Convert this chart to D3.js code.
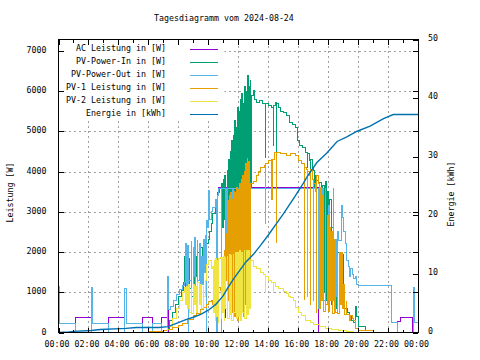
<!DOCTYPE html>
<html>
<head>
<meta charset="utf-8">
<script src="https://cdn.jsdelivr.net/npm/d3@7"></script>
<style>
  body { margin: 0; background: #fff; }
  text { font-family: "DejaVu Sans Mono", "Liberation Mono", monospace; font-size: 8.3px; fill: #000; }
</style>
</head>
<body>
<svg id="chart" width="480" height="360"></svg>
<script>

var chartTitle = "Tagesdiagramm vom 2024-08-24";

// x axis: hours of the day
var hourTicks = [0, 2, 4, 6, 8, 10, 12, 14, 16, 18, 20, 22, 24];
var hourMinorTicks = [1, 3, 5, 7, 9, 11, 13, 15, 17, 19, 21, 23];
var hourLabels = ["00:00", "02:00", "04:00", "06:00", "08:00", "10:00", "12:00",
  "14:00", "16:00", "18:00", "20:00", "22:00", "00:00"];
var gridHours = [2, 4, 6, 8, 10, 12, 14, 16, 18, 20, 22];

// left axis (W) and right axis (kWh)
var powerTicks = [0, 1000, 2000, 3000, 4000, 5000, 6000, 7000];
var gridPower = [1000, 2000, 3000, 4000, 5000, 6000, 7000];
var energyTicks = [0, 10, 20, 30, 40, 50];

var seriesNames = ["AC Leistung in [W]", "PV-Power-In in [W]", "PV-Power-Out in [W]",
  "PV-1 Leistung in [W]", "PV-2 Leistung in [W]", "Energie in [kWh]"];

// [hour, W]
var acData = [
  [0,0],[1.13,380],[2.2,0],[3.35,380],[4.42,0],[5.6,380],[6.3,0],[6.9,380],
  [7.25,850],[7.32,0],[10.6,3400],[10.7,3615],[11.13,380],[11.17,3615],
  [17.35,0],[22.66,270],[22.8,380],[23.65,0],[24,0]
];

var pvInData = [
  [0,0],[7.1,0],[7.25,100],[7.4,300],[7.6,500],[7.8,700],[8.0,900],[8.2,1050],[8.35,1250],
  [8.4,1900],[8.45,900],[8.55,1700],[8.6,1000],[8.7,1850],[8.75,1100],[8.85,1600],
  [8.9,900],[9.0,1800],[9.05,1100],[9.15,1900],[9.2,1400],[9.3,2000],[9.4,1600],
  [9.5,2100],[9.6,1900],[9.7,2150],[9.85,2200],[10.0,2300],[10.1,2500],[10.2,2700],
  [10.3,2950],[10.45,3200],[10.6,3480],[10.75,3570],
  [10.9,3700],[10.95,2600],[11.0,3800],[11.05,2800],[11.1,3900],[11.15,2500],
  [11.25,4020],[11.3,3000],[11.35,4300],[11.4,2600],[11.45,4500],[11.5,3200],
  [11.55,4770],[11.6,2800],[11.65,4900],[11.7,3000],[11.75,5260],[11.8,2500],
  [11.85,5100],[11.9,3100],[11.95,5600],[12.0,2700],[12.05,5500],[12.1,3000],
  [12.15,5800],[12.2,2400],[12.25,5930],[12.3,2900],[12.35,5700],[12.4,3300],
  [12.45,6100],[12.5,2600],[12.55,6000],[12.6,3000],[12.62,6390],[12.68,3500],
  [12.72,6100],[12.78,3400],[12.8,6260],[12.85,3600],[12.88,5900],[13.0,6010],
  [13.1,5800],[13.25,5720],[13.4,5760],[13.6,5700],[13.8,4350],[13.83,5680],
  [14.0,5650],[14.2,5600],[14.33,4640],[14.36,5650],[14.5,5720],[14.55,3300],
  [14.58,5700],[14.7,5600],[14.85,5500],[15.0,5470],[15.2,5390],[15.4,5220],
  [15.6,5180],[15.8,5100],[15.95,4770],[16.1,4640],[16.3,4600],[16.5,4480],
  [16.6,4100],[16.65,4450],[16.75,4270],[16.8,3950],[16.85,4300],[16.95,4100],
  [17.05,4020],[17.1,3600],[17.15,3900],[17.25,3770],[17.35,3700],[17.4,3300],
  [17.45,3720],[17.55,3500],[17.6,900],[17.65,3650],[17.75,1000],[17.8,3750],
  [17.9,800],[17.95,3500],[18.05,900],[18.1,3300],[18.2,700],[18.25,2600],
  [18.35,800],[18.4,2200],[18.55,600],[18.6,2000],[18.75,1200],[18.85,1950],
  [19.0,800],[19.1,600],[19.3,500],[19.45,420],[19.55,300],[19.7,250],[19.8,650],
  [19.9,400],[20.0,150],[20.5,60],[21.0,0],[24,0]
];

var pvOutData = [
  [0,1150],[0.05,220],[1.13,0],[2.2,1130],[2.3,220],[3.35,0],
  [4.42,1100],[4.55,220],[5.6,0],[6.3,220],[6.9,0],
  [7.25,1380],[7.32,560],[7.5,650],[7.7,800],[7.9,950],[8.1,1080],[8.3,1180],[8.4,1250],
  [8.5,2200],[8.55,800],[8.6,2150],[8.65,0],[8.7,1300],[8.85,2250],[8.9,1000],
  [9.0,2100],[9.05,1400],[9.1,2360],[9.15,900],[9.25,2280],[9.3,1300],[9.4,2200],
  [9.45,800],[9.55,1900],[9.6,1200],[9.7,2300],[9.75,1500],[9.8,2400],[9.85,0],
  [9.9,2780],[9.95,2600],[10.0,3000],[10.03,3530],[10.07,2800],[10.2,3000],
  [10.3,3100],[10.45,3300],[10.55,0],[10.6,3400],[10.7,3590],[10.85,0],[10.9,3590],
  [11.15,1400],[11.2,3590],[11.25,1500],[11.3,3590],[11.6,2200],[11.65,3590],
  [11.95,1900],[12.0,3590],[12.3,2500],[12.35,3590],
  [17.35,600],[17.4,3590],[17.5,900],[17.6,3590],[17.7,800],[17.8,3590],[17.85,700],
  [18.05,3150],[18.1,1500],[18.2,2300],[18.25,800],[18.33,3590],[18.38,1000],
  [18.5,2300],[18.55,900],[18.6,2500],[18.7,2280],[18.9,3150],[18.95,2850],
  [19.05,2500],[19.15,2200],[19.25,1800],[19.35,1650],[19.45,1400],[19.5,1600],
  [19.6,1450],[19.7,1350],[19.8,1400],[19.9,1200],[20.0,1180],
  [22.2,260],[22.66,0],[23.7,1130],[23.78,245],[24,245]
];

var pv1Data = [
  [0,0],[6.1,30],[7.0,60],[7.3,80],[7.6,120],[8.0,170],[8.3,220],[8.6,330],[9.0,420],
  [9.2,480],[9.5,560],[9.7,620],[9.9,700],[10.0,780],[10.2,800],[10.3,700],[10.4,870],
  [10.5,760],[10.6,950],[10.7,1120],[10.8,1050],[10.9,1280],[11.0,1600],[11.05,900],
  [11.1,2030],[11.15,1300],[11.2,2450],[11.25,1500],[11.3,3270],[11.35,800],
  [11.4,3400],[11.45,600],[11.5,3480],[11.55,500],[11.6,3300],[11.65,900],
  [11.7,3500],[11.75,400],[11.8,3480],[11.85,700],[11.9,3600],[11.95,300],
  [12.0,3550],[12.05,800],[12.1,3700],[12.15,500],[12.2,3800],[12.25,600],
  [12.3,3900],[12.35,400],[12.4,4000],[12.45,700],[12.5,4200],[12.55,500],
  [12.6,4320],[12.65,900],[12.7,4250],[12.75,600],[12.8,3700],[13.0,3750],
  [13.2,3900],[13.35,4000],[13.5,4100],[13.78,4150],[13.8,2700],[13.83,4200],
  [14.0,4270],[14.2,4310],[14.25,3300],[14.28,4310],[14.45,4480],[14.55,2240],
  [14.58,4480],[14.8,4440],[15.2,4390],[15.5,4440],[15.8,4400],[16.0,4350],
  [16.05,4270],[16.2,4200],[16.35,4190],[16.4,830],[16.45,4100],[16.55,4060],
  [16.6,900],[16.65,4000],[16.75,3900],[16.8,700],[16.85,4050],[16.95,3800],
  [17.0,800],[17.05,3700],[17.15,3500],[17.2,500],[17.25,3900],[17.35,3700],
  [17.4,600],[17.5,3600],[17.55,800],[17.65,3400],[17.7,530],[17.8,3300],
  [17.85,700],[17.95,2900],[18.0,510],[18.1,2600],[18.15,800],[18.25,2500],
  [18.3,460],[18.45,2300],[18.5,500],[18.6,2100],[18.65,460],[18.75,2000],
  [18.8,700],[18.9,1980],[18.95,600],[19.05,1200],[19.1,450],[19.2,780],
  [19.25,450],[19.4,290],[19.5,410],[19.6,350],[19.7,300],[19.8,100],[20.0,60],
  [20.5,50],[21.0,0],[24,0]
];

var pv2Data = [
  [0,0],[7.0,0],[7.3,150],[7.6,350],[7.9,600],[8.1,800],[8.3,1000],[8.4,1120],
  [8.45,700],[8.55,1150],[8.6,600],[8.7,1200],[8.75,500],[8.85,1100],[8.9,460],
  [9.0,1200],[9.05,700],[9.15,1150],[9.2,500],[9.3,1250],[9.4,700],[9.5,1200],
  [9.55,600],[9.65,1150],[9.7,900],[9.8,1300],[9.9,1700],[10.0,1800],[10.1,1780],
  [10.2,1600],[10.3,1650],[10.35,500],[10.4,1800],[10.45,300],[10.5,1850],
  [10.55,400],[10.6,1800],[10.65,250],[10.7,1850],[10.8,1860],[10.85,350],
  [10.9,1870],[10.95,500],[11.0,1900],[11.05,300],[11.1,1860],[11.15,600],
  [11.25,1900],[11.3,350],[11.4,1950],[11.45,450],[11.5,1920],[11.55,300],
  [11.65,1950],[11.7,500],[11.8,1980],[11.85,350],[11.95,2000],[12.0,400],
  [12.1,2030],[12.15,300],[12.25,2000],[12.3,500],[12.4,2030],[12.45,350],
  [12.55,2030],[12.6,450],[12.7,2030],[12.75,600],[12.8,1780],[13.0,1650],
  [13.2,1600],[13.4,1580],[13.5,1500],[13.7,1450],[13.8,990],[13.83,1400],
  [14.0,1300],[14.2,1250],[14.33,990],[14.36,1240],[14.5,1150],[14.7,1100],
  [15.0,1030],[15.2,980],[15.35,900],[15.5,870],[15.7,800],[15.85,620],
  [16.0,500],[16.2,410],[16.5,290],[16.8,240],[17.0,200],[17.4,150],[17.8,110],
  [18.2,80],[18.7,60],[19.2,30],[19.7,10],[20.0,0],[24,0]
];

// [hour, kWh]
var energyData = [
  [0,0],[0.7,0.1],[1.0,0.2],[2.2,0.35],[2.8,0.5],[4.5,0.7],[5.2,0.85],[6.7,0.85],
  [7.3,1.0],[7.7,1.4],[8.0,1.7],[8.5,2.2],[9.0,2.6],[9.5,3.1],[10.0,3.8],[10.5,4.8],
  [11.0,6.3],[11.3,7.6],[11.7,9.2],[12.1,10.6],[12.5,12.0],[13.0,13.3],[13.5,14.9],
  [14.0,16.6],[14.5,18.4],[15.0,20.2],[15.7,22.9],[16.35,25.5],[16.6,26.6],
  [17.25,29.0],[17.9,30.6],[18.6,32.6],[19.25,33.4],[19.9,34.3],[20.8,35.2],
  [21.7,36.5],[22.35,37.2],[24,37.2]
];

// gnuplot default line colours
var seriesColors = ["#9400d3", "#009e73", "#56b4e9", "#e69f00", "#f0e442", "#0072b2"];


// plot box (window.top is read-only, so no plain "top" here)
var plotLeft = 58.5, plotRight = 418, plotTop = 39.5, plotBottom = 332.5;

var svg = d3.select("#chart");

var x = d3.scaleLinear().domain([0, 24]).range([plotLeft, plotRight]);
var yPower = d3.scaleLinear().domain([0, 7280]).range([plotBottom, plotTop]);
var yEnergy = d3.scaleLinear().domain([0, 50]).range([plotBottom, plotTop]);

function style_axis(g){
  g.select(".domain").remove();
  g.attr("font-family", null).attr("font-size", null);
  g.selectAll("line").attr("stroke", "#000").attr("shape-rendering", "crispEdges");
}

// dashed grid
var grid = svg.append("g");
grid.append("g")
  .attr("transform", "translate(0," + plotBottom + ")")
  .call(d3.axisBottom(x).tickValues(gridHours).tickSize(-(plotBottom - plotTop)).tickFormat(""))
  .call(style_axis);
grid.append("g")
  .attr("transform", "translate(" + plotLeft + ",0)")
  .call(d3.axisLeft(yPower).tickValues(gridPower).tickSize(-(plotRight - plotLeft)).tickFormat(""))
  .call(style_axis);
grid.selectAll("line")
  .attr("stroke", "#a0a0a0")
  .attr("stroke-dasharray", "2,3");

// the series, in gnuplot plot order
var stepLine = d3.line()
  .x(function(d){ return x(d[0]); })
  .y(function(d){ return yPower(d[1]); })
  .curve(d3.curveStepAfter);

var powerSeries = [acData, pvInData, pvOutData, pv1Data, pv2Data];
for (var i = 0; i < powerSeries.length; i++){
  svg.append("path")
    .attr("d", stepLine(powerSeries[i]))
    .attr("fill", "none")
    .attr("stroke", seriesColors[i])
    .attr("stroke-width", 1)
    .attr("shape-rendering", "crispEdges");
}

var energyLine = d3.line()
  .x(function(d){ return x(d[0]); })
  .y(function(d){ return yEnergy(d[1]); });

svg.append("path")
  .attr("d", energyLine(energyData))
  .attr("fill", "none")
  .attr("stroke", seriesColors[5])
  .attr("stroke-width", 1.4);

// opaque key box, hides the grid behind the legend
svg.append("rect")
  .attr("x", plotLeft)
  .attr("y", plotTop)
  .attr("width", 166)
  .attr("height", 81)
  .attr("fill", "#fff");

// ticks, all pointing inwards
svg.append("g")
  .attr("transform", "translate(0," + plotBottom + ")")
  .call(d3.axisBottom(x).tickValues(hourTicks).tickSize(-5).tickPadding(9)
    .tickFormat(function(d, i){ return hourLabels[i]; }))
  .call(style_axis)
  .selectAll("text").attr("dx", -2);
svg.append("g")
  .attr("transform", "translate(0," + plotBottom + ")")
  .call(d3.axisBottom(x).tickValues(hourMinorTicks).tickSize(-3).tickFormat(""))
  .call(style_axis);
svg.append("g")
  .attr("transform", "translate(0," + plotTop + ")")
  .call(d3.axisTop(x).tickValues(hourTicks).tickSize(-5).tickFormat(""))
  .call(style_axis);
svg.append("g")
  .attr("transform", "translate(0," + plotTop + ")")
  .call(d3.axisTop(x).tickValues(hourMinorTicks).tickSize(-3).tickFormat(""))
  .call(style_axis);

svg.append("g")
  .attr("transform", "translate(" + plotLeft + ",0)")
  .call(d3.axisLeft(yPower).tickValues(powerTicks).tickSize(-5).tickPadding(12)
    .tickFormat(d3.format("d")))
  .call(style_axis)
  .selectAll("text").attr("dy", "0.2em");
svg.append("g")
  .attr("transform", "translate(" + plotRight + ",0)")
  .call(d3.axisRight(yPower).tickValues(powerTicks).tickSize(-5).tickFormat(""))
  .call(style_axis);
svg.append("g")
  .attr("transform", "translate(" + plotRight + ",0)")
  .call(d3.axisRight(yEnergy).tickValues(energyTicks).tickSize(-5).tickPadding(10)
    .tickFormat(d3.format("d")))
  .call(style_axis)
  .selectAll("text").attr("dy", "0.1em");

// border on top of the data
svg.append("rect")
  .attr("x", plotLeft)
  .attr("y", plotTop)
  .attr("width", plotRight - plotLeft)
  .attr("height", plotBottom - plotTop)
  .attr("fill", "none")
  .attr("stroke", "#000")
  .attr("shape-rendering", "crispEdges");

// titles
svg.append("text")
  .attr("x", 154)
  .attr("y", 21)
  .text(chartTitle);

svg.append("text")
  .attr("transform", "translate(10,192.5) rotate(-90)")
  .attr("text-anchor", "middle")
  .attr("dy", "0.35em")
  .text("Leistung [W]");

svg.append("text")
  .attr("transform", "translate(451.5,194) rotate(-90)")
  .attr("text-anchor", "middle")
  .attr("dy", "0.35em")
  .text("Energie [kWh]");

// legend
var legend = svg.append("g");
for (var i = 0; i < seriesNames.length; i++){
  var ly = 49.5 + 13 * i;
  legend.append("text")
    .attr("x", 166)
    .attr("y", ly + 1.5)
    .attr("text-anchor", "end")
    .text(seriesNames[i]);
  legend.append("line")
    .attr("x1", 190)
    .attr("x2", 218)
    .attr("y1", ly)
    .attr("y2", ly)
    .attr("stroke", seriesColors[i])
    .attr("shape-rendering", "crispEdges");
}

</script>
</body>
</html>
